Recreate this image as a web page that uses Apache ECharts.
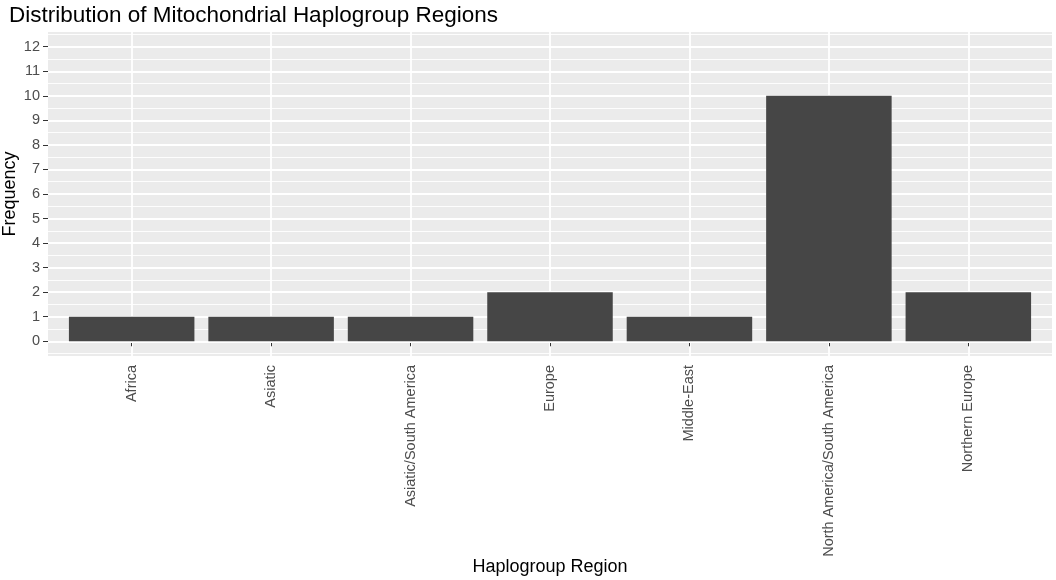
<!DOCTYPE html>
<html><head><meta charset="utf-8">
<script src="https://cdn.jsdelivr.net/npm/echarts@6/dist/echarts.min.js"></script>
<style>html,body{margin:0;padding:0;background:#fff}#c{width:1056px;height:580px}</style>
</head><body><div id="c"></div>
<script>
const categories = ["Africa","Asiatic","Asiatic/South America","Europe","Middle-East","North America/South America","Northern Europe"];
const frequency = [1,1,1,2,1,10,2];
const yTicks = [0,1,2,3,4,5,6,7,8,9,10,11,12];

const positions = categories.map((c,i)=>i+1);
const yMinor = yTicks.map(v=>v-0.5).concat([12.5]);
const xMin = 0.4, xMax = categories.length + 0.6;
const yMin = -0.6, yMax = 12.6;
const gridLeft = 48, gridRight = 4, gridTop = 32, gridBottom = 224;
const gridW = 1056 - gridLeft - gridRight;
const barW = gridW / (xMax - xMin) * 0.9;

const chart = echarts.init(document.getElementById('c'), null, {renderer:'canvas'});
chart.setOption({
  animation:false,
  backgroundColor:'#ffffff',
  title:{text:'Distribution of Mitochondrial Haplogroup Regions', left:4, top:-1,
    textStyle:{fontFamily:'Liberation Sans, Arial', fontSize:22.5, fontWeight:'normal', color:'#000'}},
  grid:{left:gridLeft,right:gridRight,top:gridTop,bottom:gridBottom,show:true,backgroundColor:'#ebebeb',borderWidth:0,
    containLabel:false,outerBoundsMode:'none'},
  xAxis:{type:'value',min:xMin,max:xMax,
    name:'Haplogroup Region',nameLocation:'middle',nameGap:202,nameMoveOverlap:false,
    nameTextStyle:{fontFamily:'Liberation Sans, Arial',fontSize:18,color:'#000'},
    axisLine:{show:false},
    axisTick:{show:true,customValues:positions,length:5,lineStyle:{color:'#333',width:1}},
    axisLabel:{customValues:positions,rotate:90,margin:9,formatter:v=>categories[Math.round(v)-1]||'',
      fontFamily:'Liberation Sans, Arial',fontSize:14.5,color:'#4d4d4d'},
    splitLine:{show:true,lineStyle:{color:'#ffffff',width:1.8}}},
  yAxis:[{type:'value',min:yMin,max:yMax,
    name:'Frequency',nameLocation:'middle',nameGap:29,nameRotate:90,nameMoveOverlap:false,
    nameTextStyle:{fontFamily:'Liberation Sans, Arial',fontSize:18,color:'#000'},
    axisLine:{show:false},
    axisTick:{show:true,customValues:yTicks,length:5,lineStyle:{color:'#333',width:1}},
    axisLabel:{customValues:yTicks,margin:8,fontFamily:'Liberation Sans, Arial',fontSize:14.5,color:'#4d4d4d'},
    splitLine:{show:true,lineStyle:{color:'#ffffff',width:1.8}},z:3},
   {type:'value',min:yMin,max:yMax,position:'left',
    axisLine:{show:false},
    axisTick:{show:false,customValues:yMinor},
    axisLabel:{show:false,customValues:yMinor},
    splitLine:{show:true,lineStyle:{color:'#ffffff',width:0.9}},z:2}],
  series:[{type:'bar',data:positions.map((p,i)=>[p,frequency[i]]),barWidth:barW,
    itemStyle:{color:'#464646'},z:5}]
});
</script></body></html>
